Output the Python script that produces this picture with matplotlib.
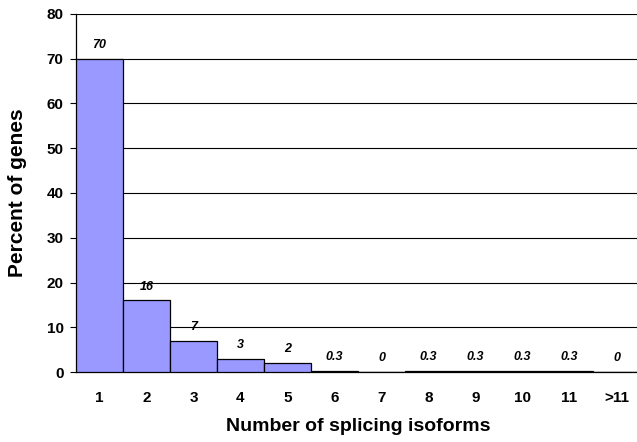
import numpy as np
import matplotlib.pyplot as plt

plt.rcParams['font.family'] = ['Liberation Sans', 'DejaVu Sans']
plt.rcParams['font.weight'] = 'bold'

# isoform counts and share of genes
categories = ['1', '2', '3', '4', '5', '6', '7', '8', '9', '10', '11', '>11']
percent = [70, 16, 7, 3, 2, 0.3, 0, 0.3, 0.3, 0.3, 0.3, 0]
bar_labels = ['70', '16', '7', '3', '2', '0.3', '0', '0.3', '0.3', '0.3', '0.3', '0']

fig = plt.figure(figsize=(6.37, 4.42), dpi=100)
ax = fig.add_axes([76/637, 70/442, 564/637, 358/442])

x = np.arange(len(categories))
ax.bar(x, percent, width=1.0, color='#9999FF', edgecolor='black', linewidth=0.9, zorder=3)

for xi, v, lab in zip(x, percent, bar_labels):
    ax.annotate(lab, (xi, v), xytext=(0, 10), textcoords='offset points',
                ha='center', va='center', fontsize=9, fontstyle='italic', fontweight='bold')

ax.set_xlim(-0.5, len(categories) - 0.5)
ax.set_ylim(0, 80)
ax.set_yticks(np.arange(0, 81, 10))
ax.yaxis.grid(True, color='black', linewidth=0.8)
ax.set_axisbelow(True)

ax.set_xticks(x)
ax.set_xticklabels(categories)
ax.tick_params(axis='x', length=0, pad=14, labelsize=11)
ax.tick_params(axis='y', length=4, width=0.8, pad=5, labelsize=11)

for s in ['top', 'right']:
    ax.spines[s].set_visible(False)
ax.spines['left'].set_linewidth(0.9)
ax.spines['bottom'].set_linewidth(0.9)

ax.set_xlabel('Number of splicing isoforms', fontsize=14, fontweight='bold', labelpad=9)
ax.set_ylabel('Percent of genes', fontsize=15, fontweight='bold', labelpad=14)

fig.savefig('out.png', dpi=100)
